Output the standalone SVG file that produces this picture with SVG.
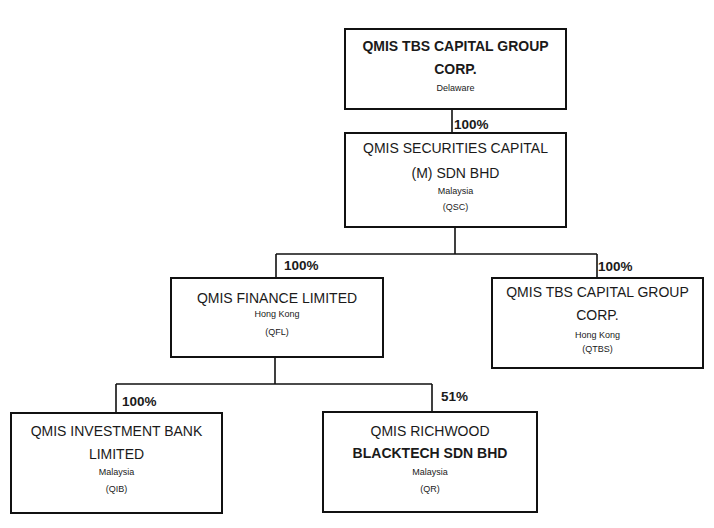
<svg xmlns="http://www.w3.org/2000/svg" width="714" height="528" viewBox="0 0 714 528">
<style>
.box{fill:#fff;stroke:#111;stroke-width:2}
.ln{fill:none;stroke:#111;stroke-width:1.6}
text{font-family:"Liberation Sans",Arial,sans-serif;fill:#1a1a1a;text-anchor:middle}
.t{font-size:14px}
.tb{font-size:14px;font-weight:bold}
.s{font-size:9px}
.p{font-size:13.5px;font-weight:bold;text-anchor:start}
</style>
<rect width="714" height="528" fill="#fff"/>
<g id="connectors">
<path class="ln" d="M452 109V133"/>
<path class="ln" d="M455 227V254M276 254H597M276 254V278M597 254V278"/>
<path class="ln" d="M275 357V384M116 384H432M116 384V413M432 384V412"/>
<text class="p" x="454" y="129">100%</text>
<text class="p" x="284" y="270">100%</text>
<text class="p" x="598" y="271">100%</text>
<text class="p" x="122" y="406">100%</text>
<text class="p" x="441" y="401">51%</text>
</g>
<g id="n-top">
<rect class="box" x="345" y="29" width="221" height="80"/>
<text class="tb" x="455.5" y="51">QMIS TBS CAPITAL GROUP</text>
<text class="tb" x="455.5" y="74">CORP.</text>
<text class="s" x="455.5" y="91">Delaware</text>
</g>
<g id="n-qsc">
<rect class="box" x="345" y="133" width="221" height="94"/>
<text class="t" x="455.5" y="153">QMIS SECURITIES CAPITAL</text>
<text class="t" x="455.5" y="178">(M) SDN BHD</text>
<text class="s" x="455.5" y="194">Malaysia</text>
<text class="s" x="455.5" y="210">(QSC)</text>
</g>
<g id="n-qfl">
<rect class="box" x="171" y="278" width="212" height="79"/>
<text class="t" x="277" y="303">QMIS FINANCE LIMITED</text>
<text class="s" x="277" y="317">Hong Kong</text>
<text class="s" x="277" y="335">(QFL)</text>
</g>
<g id="n-qtbs">
<rect class="box" x="492" y="278" width="211" height="90"/>
<text class="t" x="597.5" y="297">QMIS TBS CAPITAL GROUP</text>
<text class="t" x="597.5" y="320">CORP.</text>
<text class="s" x="597.5" y="338">Hong Kong</text>
<text class="s" x="597.5" y="352">(QTBS)</text>
</g>
<g id="n-qib">
<rect class="box" x="11" y="413" width="211" height="100"/>
<text class="t" x="116.5" y="436">QMIS INVESTMENT BANK</text>
<text class="t" x="116.5" y="459">LIMITED</text>
<text class="s" x="116.5" y="475">Malaysia</text>
<text class="s" x="116.5" y="492">(QIB)</text>
</g>
<g id="n-qr">
<rect class="box" x="323" y="412" width="214" height="100"/>
<text class="t" x="430" y="436">QMIS RICHWOOD</text>
<text class="tb" x="430" y="458">BLACKTECH SDN BHD</text>
<text class="s" x="430" y="475">Malaysia</text>
<text class="s" x="430" y="492">(QR)</text>
</g>
</svg>
